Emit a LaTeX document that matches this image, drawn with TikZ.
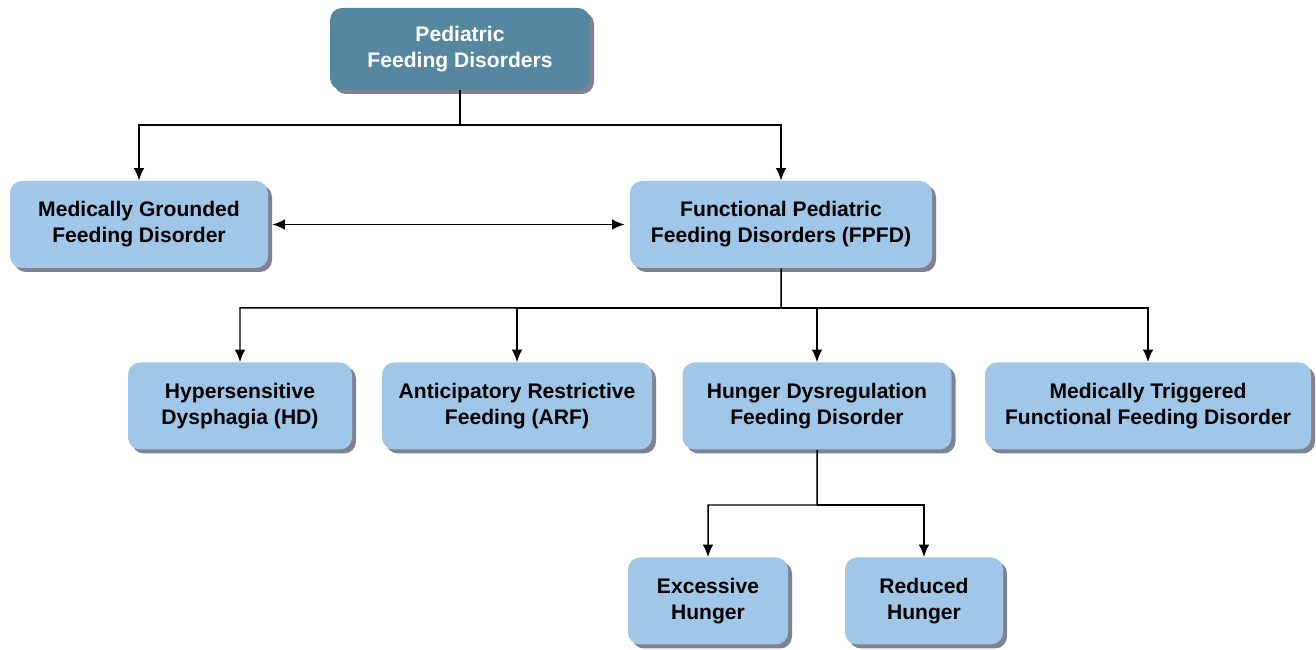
\documentclass[tikz,border=0pt]{standalone}
\usepackage{fontspec}
\setmainfont{Liberation Sans}
\usepackage{tikz}
\usetikzlibrary{positioning}
\usetikzlibrary{arrows.meta}
\usetikzlibrary{shadows}
\definecolor{topBlue}{RGB}{86,135,160}
\definecolor{boxBlue}{RGB}{160,198,232}
\definecolor{shadeGray}{RGB}{128,130,145}
\tikzstyle{boxBase} = [rounded corners=0.24cm, minimum height=1.74cm, align=center,
    font=\fontsize{12}{14.8}\selectfont\bfseries,
    drop shadow={shadow xshift=0.08cm, shadow yshift=-0.08cm, fill=shadeGray, opacity=1}]
\tikzstyle{topBox} = [boxBase, fill=topBlue, text=white, minimum height=1.64cm]
\tikzstyle{subBox} = [boxBase, fill=boxBlue, text=black]
\tikzstyle{arrLine} = [line width=0.85pt, -{Latex[length=0.25cm,width=0.21cm]}]
\tikzstyle{dblLine} = [line width=0.85pt, {Latex[length=0.25cm,width=0.21cm]}-{Latex[length=0.25cm,width=0.21cm]}]

\begin{document}
\begin{tikzpicture}
                    \useasboundingbox (0,0) rectangle (26.32,-13);
                    \node at (9.2,-0.98) [topBox,minimum width=5.20cm] (nPFD)   {Pediatric\\Feeding Disorders};
                    \node at (nPFD)      [xshift= -6.42cm,yshift=-3.51cm,subBox,minimum width=5.16cm] (nMGFD)  {Medically Grounded\\Feeding Disorder};
                    \node at (nPFD)      [xshift=  6.42cm,yshift=-3.51cm,subBox,minimum width=6.04cm] (nFPFD)  {Functional Pediatric\\Feeding Disorders (FPFD)};
                    \node at (nFPFD)     [xshift=-10.82cm,yshift=-3.63cm,subBox,minimum width=4.48cm] (nHD)    {Hypersensitive\\Dysphagia (HD)};
                    \node at (nFPFD)     [xshift= -5.28cm,yshift=-3.63cm,subBox,minimum width=5.40cm] (nARF)   {Anticipatory Restrictive\\Feeding (ARF)};
                    \node at (nFPFD)     [xshift=  0.72cm,yshift=-3.63cm,subBox,minimum width=5.38cm] (nHDFD)  {Hunger Dysregulation\\Feeding Disorder};
                    \node at (nFPFD)     [xshift=  7.34cm,yshift=-3.63cm,subBox,minimum width=6.52cm] (nMTFFD) {Medically Triggered\\Functional Feeding Disorder};
                    \node at (nHDFD)     [xshift= -2.18cm,yshift=-3.90cm,subBox,minimum width=3.20cm] (nEH)    {Excessive\\Hunger};
                    \node at (nHDFD)     [xshift=  2.14cm,yshift=-3.90cm,subBox,minimum width=3.16cm] (nRH)    {Reduced\\Hunger};
                    \coordinate (jTop)  at (9.2,-2.5);
                    \coordinate (jFPFD) at (15.62,-6.16);
                    \coordinate (jHDFD) at (16.34,-10.1);
                    \draw[arrLine] (nPFD.south)  -- (jTop)  -| (nMGFD.north) ;
                    \draw[arrLine] (jTop)        -| (nFPFD.north)            ;
                    \draw[dblLine,shorten <=0.08cm,shorten >=0.1cm] (nMGFD.east) -- (nFPFD.west);
                    \draw[arrLine] (nFPFD.south) -- (jFPFD) -| (nHD.north)   ;
                    \draw[arrLine] (jFPFD)       -| (nARF.north)             ;
                    \draw[arrLine] (jFPFD)       -| (nHDFD.north)            ;
                    \draw[arrLine] (jFPFD)       -| (nMTFFD.north)           ;
                    \draw[arrLine] (nHDFD.south) -- (jHDFD) -| (nEH.north)   ;
                    \draw[arrLine] (jHDFD)       -| (nRH.north)              ;
                \end{tikzpicture}
\end{document}
